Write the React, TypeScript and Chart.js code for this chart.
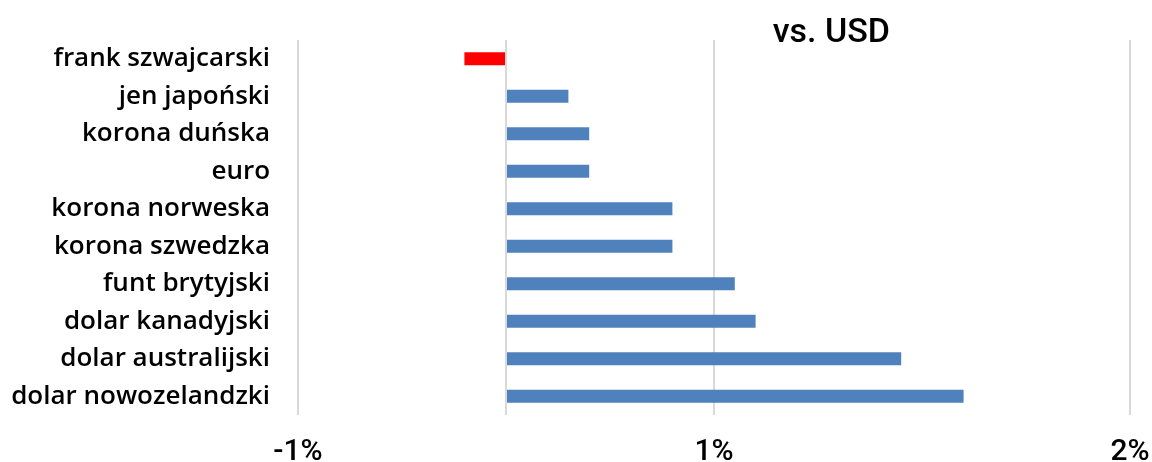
import React, { useEffect, useRef } from "react";
import { Chart, registerables } from "chart.js";

Chart.register(...registerables);

// Currencies, top to bottom
const categories = [
  "frank szwajcarski",
  "jen japoński",
  "korona duńska",
  "euro",
  "korona norweska",
  "korona szwedzka",
  "funt brytyjski",
  "dolar kanadyjski",
  "dolar australijski",
  "dolar nowozelandzki",
];

// Change vs. USD, in percent
const values = [-0.1, 0.15, 0.2, 0.2, 0.4, 0.4, 0.55, 0.6, 0.95, 1.1];

// Gridline positions on the value axis and their labels
const tickValues = [-0.5, 0, 0.5, 1.5];
const tickLabels = ["-1%", "", "1%", "2%"];

const titleText = "vs. USD";

const BLUE = "#4F81BD";
const RED = "#FF0000";

const titlePlugin = {
  id: "cornerTitle",
  afterDraw(chart: any) {
    const { ctx, chartArea } = chart;
    ctx.save();
    ctx.font = "500 34px Roboto, 'DejaVu Sans', sans-serif";
    ctx.fillStyle = "#000";
    ctx.textAlign = "center";
    ctx.textBaseline = "middle";
    const x = chartArea.left + (chartArea.right - chartArea.left) * 0.641;
    ctx.fillText(titleText, x, chartArea.top - 7);
    ctx.restore();
  },
};

export default function App() {
  const canvasRef = useRef<HTMLCanvasElement | null>(null);

  useEffect(() => {
    if (!canvasRef.current) return;
    const chart = new Chart(canvasRef.current, {
      type: "bar",
      data: {
        labels: categories,
        datasets: [
          {
            data: values,
            backgroundColor: values.map((v) => (v < 0 ? RED : BLUE)),
            borderWidth: 0,
            barPercentage: 0.35,
            categoryPercentage: 1,
          },
        ],
      },
      options: {
        indexAxis: "y",
        animation: false,
        responsive: false,
        maintainAspectRatio: false,
        layout: { padding: { top: 40, right: 22, left: 0, bottom: 0 } },
        plugins: {
          legend: { display: false },
          tooltip: { enabled: false },
          title: { display: false },
        },
        scales: {
          x: {
            type: "linear",
            min: -0.5,
            max: 1.5,
            afterBuildTicks: (axis: any) => {
              axis.ticks = tickValues.map((v) => ({ value: v }));
            },
            afterFit: (axis: any) => {
              axis.height = 47;
              axis.paddingLeft = 0;
              axis.paddingRight = 0;
            },
            grid: {
              color: "#D9D9D9",
              lineWidth: 2,
              drawTicks: false,
            },
            border: { display: false },
            ticks: {
              autoSkip: false,
              maxRotation: 0,
              padding: 19,
              color: "#000",
              font: { family: "Roboto, 'DejaVu Sans', sans-serif", size: 30, weight: "500" },
              callback: (_v: any, i: number) => tickLabels[i],
            },
          },
          y: {
            type: "category",
            afterFit: (axis: any) => {
              axis.width = 298;
              axis.paddingTop = 0;
              axis.paddingBottom = 0;
            },
            grid: { display: false, drawTicks: false },
            border: { display: false },
            ticks: {
              padding: 28,
              color: "#000",
              font: { family: "'Open Sans', 'Noto Sans', sans-serif", size: 26, weight: "600" },
            },
          },
        },
      },
      plugins: [titlePlugin],
    });
    return () => chart.destroy();
  }, []);

  return (
    <div style={{ position: "fixed", left: 0, top: 0, width: 1152, height: 462, background: "#fff" }}>
      <canvas ref={canvasRef} width={1152} height={462} style={{ width: 1152, height: 462 }} />
    </div>
  );
}
